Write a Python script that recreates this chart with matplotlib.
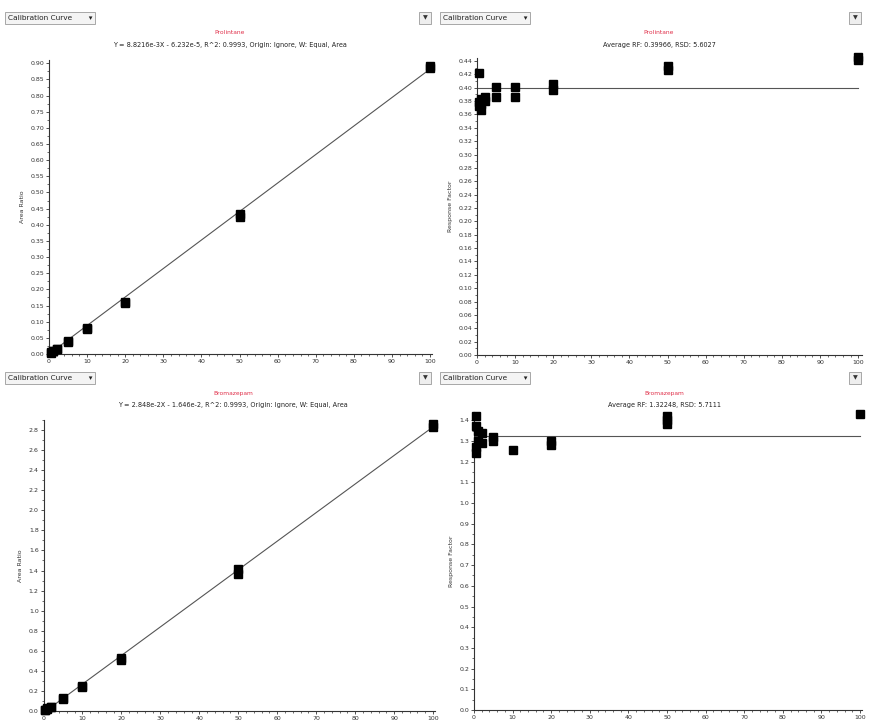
import matplotlib
matplotlib.use("Agg")
import matplotlib.pyplot as plt
from matplotlib.ticker import MultipleLocator, FormatStrFormatter

# --- data ---
pro_conc = [0.5, 0.5, 1, 1, 2, 2, 5, 5, 10, 10, 20, 20, 50, 50, 100, 100]
pro_area = [0.004, 0.006, 0.008, 0.010, 0.015, 0.017, 0.037, 0.039, 0.077, 0.079,
            0.157, 0.161, 0.424, 0.434, 0.884, 0.890]
pro_slope, pro_icpt = 8.8216e-3, -6.232e-5

pro_rf_conc = [0.5, 0.5, 0.5, 1, 1, 1, 2, 2, 5, 5, 10, 10, 20, 20, 50, 50, 100, 100]
pro_rf = [0.422, 0.378, 0.372, 0.383, 0.375, 0.366, 0.386, 0.380, 0.401, 0.386,
          0.401, 0.386, 0.405, 0.396, 0.432, 0.426, 0.446, 0.441]
pro_rf_avg = 0.39966

bro_conc = [0.5, 0.5, 1, 1, 2, 2, 5, 5, 10, 10, 20, 20, 50, 50, 100, 100]
bro_area = [0.008, 0.012, 0.022, 0.027, 0.038, 0.043, 0.120, 0.125, 0.240, 0.245,
            0.510, 0.525, 1.365, 1.420, 2.830, 2.860]
bro_slope, bro_icpt = 2.848e-2, -1.646e-2

bro_rf_conc = [0.5, 0.5, 0.5, 0.5, 1, 1, 2, 2, 5, 5, 10, 20, 20, 50, 50, 50, 100]
bro_rf = [1.42, 1.37, 1.27, 1.24, 1.35, 1.30, 1.34, 1.29, 1.32, 1.30,
          1.255, 1.30, 1.28, 1.42, 1.40, 1.38, 1.43]
bro_rf_avg = 1.32248

names = ["Prolintane", "Bromazepam"]
headers = [
    "Y = 8.8216e-3X - 6.232e-5, R^2: 0.9993, Origin: Ignore, W: Equal, Area",
    "Average RF: 0.39966, RSD: 5.6027",
    "Y = 2.848e-2X - 1.646e-2, R^2: 0.9993, Origin: Ignore, W: Equal, Area",
    "Average RF: 1.32248, RSD: 5.7111",
]

W, H = 871, 722
fig = plt.figure(figsize=(W / 100, H / 100), dpi=100)
fig.patch.set_facecolor("white")


def box(l, r, b, t):
    # pixel box -> figure fraction rect
    return [l / W, 1 - b / H, (r - l) / W, (b - t) / H]


FS = 4.5


def style(ax, xmaj, ymaj, ymin, yfmt, ylab):
    for s in ("top", "right"):
        ax.spines[s].set_visible(False)
    for s in ("left", "bottom"):
        ax.spines[s].set_linewidth(0.8)
        ax.spines[s].set_color("#333333")
    ax.xaxis.set_major_locator(MultipleLocator(xmaj))
    ax.xaxis.set_minor_locator(MultipleLocator(2))
    ax.yaxis.set_major_locator(MultipleLocator(ymaj))
    ax.yaxis.set_minor_locator(MultipleLocator(ymin))
    ax.yaxis.set_major_formatter(FormatStrFormatter(yfmt))
    ax.tick_params(axis="both", which="major", labelsize=FS, length=2.5, width=0.6,
                   pad=1, colors="#333333")
    ax.tick_params(axis="both", which="minor", length=1.3, width=0.5, colors="#333333")
    ax.set_ylabel(ylab, fontsize=FS, labelpad=4, color="#333333")
    ax.set_facecolor("white")


def header(xl, xr, y, cx, name, eq):
    fig.text(xl / W, 1 - y / H, "Calibration Curve       \u25be", fontsize=5.3,
             va="center", ha="left", color="#222222",
             bbox=dict(boxstyle="square,pad=0.4", fc="#f4f4f4", ec="#9a9a9a", lw=0.6))
    fig.text(xr / W, 1 - y / H, "\u25bc", fontsize=4.5, va="center", ha="center",
             color="#333333",
             bbox=dict(boxstyle="square,pad=0.55", fc="#eeeeee", ec="#9a9a9a", lw=0.6))
    fig.text(cx / W, 1 - (y + 15) / H, name, fontsize=4.3, color="#e0304a",
             ha="center", va="center")
    fig.text(cx / W, 1 - (y + 27) / H, eq, fontsize=4.7, color="#222222",
             ha="center", va="center")


mk = dict(marker="s", ms=5.8, color="black", ls="none", clip_on=False, zorder=3)
line_kw = dict(color="#555555", lw=0.8, zorder=2)

# top-left: area ratio
ax1 = fig.add_axes(box(49, 432, 354, 60))
ax1.plot([0, 100], [pro_icpt, pro_slope * 100 + pro_icpt], **line_kw)
ax1.plot(pro_conc, pro_area, **mk)
ax1.set_xlim(0, 100.5)
ax1.set_ylim(0, 0.91)
style(ax1, 10, 0.05, 0.025, "%.2f", "Area Ratio")

# top-right: response factor
ax2 = fig.add_axes(box(477, 862, 355, 58))
ax2.plot([0, 100], [pro_rf_avg, pro_rf_avg], **line_kw)
ax2.plot(pro_rf_conc, pro_rf, **mk)
ax2.set_xlim(0, 101)
ax2.set_ylim(0, 0.4445)
style(ax2, 10, 0.02, 0.01, "%.2f", "Response Factor")

# bottom-left: area ratio
ax3 = fig.add_axes(box(43.5, 435, 711, 420))
ax3.plot([0, 100], [bro_icpt, bro_slope * 100 + bro_icpt], **line_kw)
ax3.plot(bro_conc, bro_area, **mk)
ax3.set_xlim(0, 100.5)
ax3.set_ylim(0, 2.9)
style(ax3, 10, 0.2, 0.1, "%.1f", "Area Ratio")

# bottom-right: response factor
ax4 = fig.add_axes(box(474, 862, 710, 412))
ax4.plot([0, 100], [bro_rf_avg, bro_rf_avg], **line_kw)
ax4.plot(bro_rf_conc, bro_rf, **mk)
ax4.set_xlim(0, 100.5)
ax4.set_ylim(0, 1.44)
style(ax4, 10, 0.1, 0.05, "%.1f", "Response Factor")

header(8, 425, 18, 230, names[0], headers[0])
header(443, 855, 18, 659, names[0], headers[1])
header(8, 425, 378, 233, names[1], headers[2])
header(443, 855, 378, 664, names[1], headers[3])

fig.savefig("out.png", dpi=100, facecolor="white")
